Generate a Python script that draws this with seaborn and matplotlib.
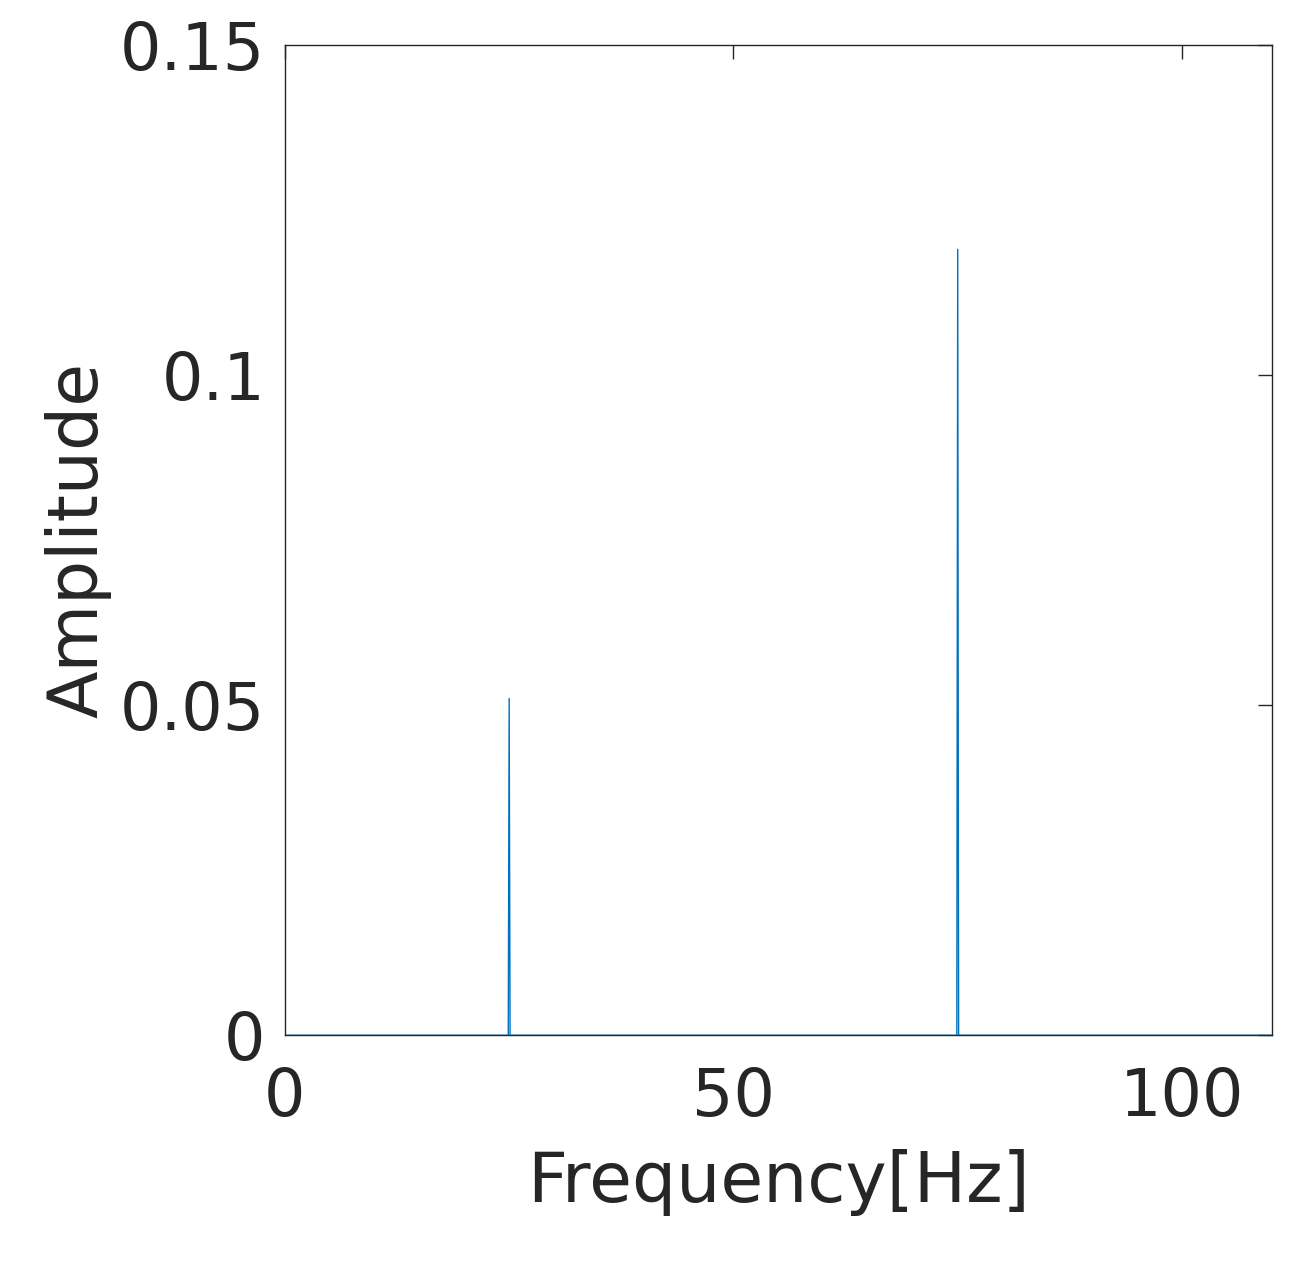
import matplotlib
matplotlib.use('Agg')
import matplotlib.pyplot as plt
import pandas as pd
import seaborn as sns

# single-sided amplitude spectrum (two sinusoid peaks)
freq_hz = [0, 24.9, 25.0, 25.1, 74.9, 75.0, 75.1, 110]
amplitude = [0, 0, 0.051, 0, 0, 0.119, 0, 0]
x_ticks = [0, 50, 100]
y_ticks = [0, 0.05, 0.1, 0.15]
y_tick_labels = ['0', '0.05', '0.1', '0.15']

sns.set_style('white')
plt.rcParams['font.family'] = ['DejaVu Sans']

df = pd.DataFrame({'f': freq_hz, 'a': amplitude})

fig = plt.figure(figsize=(12.95, 12.75), dpi=100)
ax = fig.add_axes([0.220, 0.188, 0.762, 0.777])
sns.lineplot(data=df, x='f', y='a', ax=ax, estimator=None, color='#0072BD', linewidth=1.0)

ax.set_xlim(0, 110)
ax.set_ylim(0, 0.15)
ax.set_xticks(x_ticks)
ax.set_yticks(y_ticks)
ax.set_yticklabels(y_tick_labels)
ax.tick_params(direction='in', length=10, width=1, colors='#262626', labelsize=47,
               top=True, right=True, pad=14)
ax.tick_params(axis='x', pad=22)
for s in ax.spines.values():
    s.set_color('#262626')
    s.set_linewidth(1)
ax.set_xlabel('Frequency[Hz]', fontsize=50, color='#262626', labelpad=14)
ax.set_ylabel('Amplitude', fontsize=50, color='#262626', labelpad=6)

plt.savefig('out.png')
